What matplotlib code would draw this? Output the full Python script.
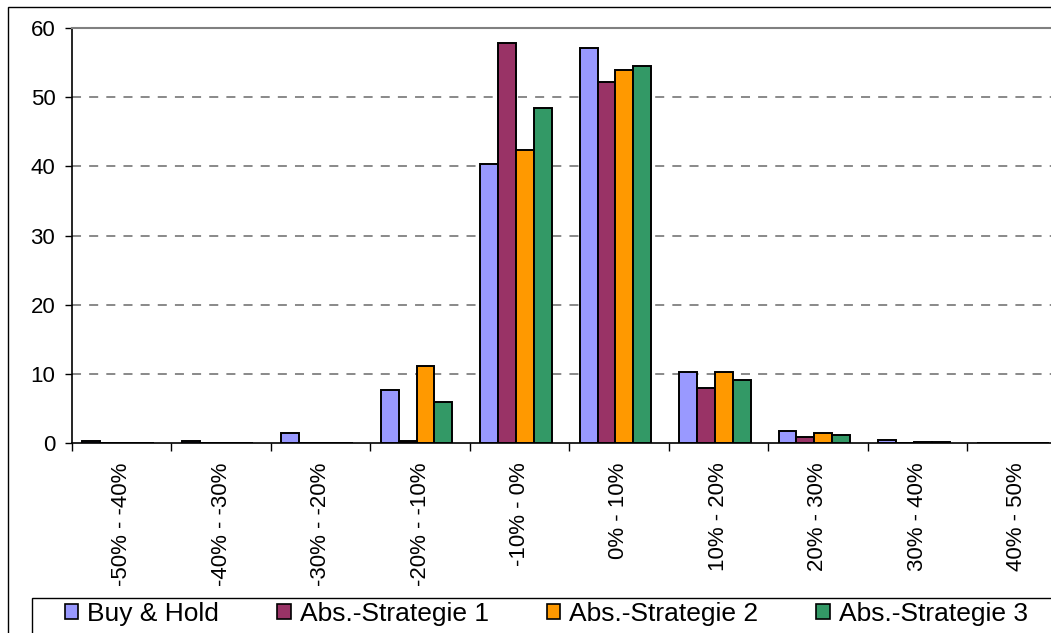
import matplotlib.pyplot as plt
import matplotlib.patches as mpatches
import numpy as np

plt.rcParams['font.family'] = ['Liberation Sans', 'DejaVu Sans']

# data
categories = ['-50% - -40%', '-40% - -30%', '-30% - -20%', '-20% - -10%', '-10% - 0%',
              '0% - 10%', '10% - 20%', '20% - 30%', '30% - 40%', '40% - 50%']
buy_hold = [0.3, 0.3, 1.4, 7.7, 40.3, 57.1, 10.3, 1.7, 0.5, 0.0]
strat1 = [0.0, 0.0, 0.0, 0.3, 57.9, 52.2, 8.0, 0.8, 0.0, 0.0]
strat2 = [0.0, 0.0, 0.0, 11.2, 42.4, 53.9, 10.3, 1.4, 0.2, 0.0]
strat3 = [0.0, 0.0, 0.0, 5.9, 48.4, 54.5, 9.1, 1.1, 0.2, 0.0]
series_names = ['Buy & Hold', 'Abs.-Strategie 1', 'Abs.-Strategie 2', 'Abs.-Strategie 3']
colors = ['#9999FF', '#993366', '#FF9900', '#339966']

W, H = 1051, 633
fig = plt.figure(figsize=(W / 100, H / 100), dpi=100)
ax = fig.add_axes([72 / W, (H - 443) / H, 994.4 / W, 415 / H])

x = np.arange(len(categories))
bw = 0.18
for i, (vals, c) in enumerate(zip([buy_hold, strat1, strat2, strat3], colors)):
    ax.bar(x + (i - 1.5) * bw - 0.035, vals, width=bw, color=c, edgecolor='black',
           linewidth=1.4, label=series_names[i], zorder=3)

ax.set_xlim(-0.5, len(categories) - 0.5)
ax.set_ylim(0, 60)
ax.set_yticks(range(0, 61, 10))
ax.tick_params(axis='y', labelsize=16, length=5, width=1, pad=7, direction='out')

# category boundaries as ticks, labels at centers
ax.set_xticks(np.arange(-0.5, len(categories), 1.0))
ax.set_xticklabels([])
ax.tick_params(axis='x', which='major', length=6, width=1, direction='out')
ax.set_xticks(x, minor=True)
ax.set_xticklabels(categories, minor=True, rotation=90, fontsize=16, va='top', ha='center')
ax.tick_params(axis='x', which='minor', length=0, pad=14)

for v in range(10, 60, 10):
    ax.axhline(v, color='#808080', linestyle=(0, (5, 4.5)), linewidth=1.3, zorder=1)

ax.spines['top'].set_color('#808080')
ax.spines['top'].set_linewidth(1.5)
ax.spines['right'].set_visible(False)
ax.spines['left'].set_linewidth(1.2)
ax.spines['bottom'].set_linewidth(1.2)

# outer chart border
fig.patches.append(mpatches.Rectangle((8 / W, -0.1), 1.2, 1 - 7 / H + 0.1, transform=fig.transFigure,
                                      fill=False, edgecolor='black', linewidth=1.0))
# legend box
fig.patches.append(mpatches.Rectangle((32 / W, -0.1), 1.2, (H - 598) / H + 0.1, transform=fig.transFigure,
                                      fill=False, edgecolor='black', linewidth=1.0))
leg = fig.legend(loc='upper left', bbox_to_anchor=(65 / W, 1 - 602 / H), ncol=4, frameon=False,
                 fontsize=19, handlelength=0.5, handleheight=0.5, handletextpad=0.35,
                 columnspacing=2.2, borderaxespad=0, borderpad=0)
for h in leg.legend_handles:
    h.set_linewidth(1.2)

fig.savefig('out.png', dpi=100)
